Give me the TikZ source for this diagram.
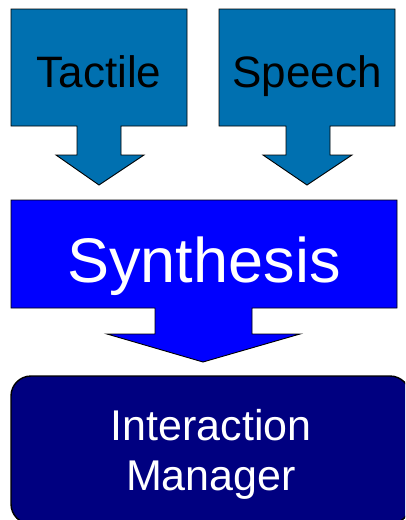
\documentclass[tikz,border=0pt]{standalone}
\usepackage{fontspec}
\setmainfont{Liberation Sans}
\definecolor{inputblue}{RGB}{0,112,176}
\definecolor{synthblue}{RGB}{0,0,255}
\definecolor{managernavy}{RGB}{0,0,128}
\tikzset{
  callout/.style={draw=black, line width=0.9pt, line join=miter},
  label/.style={anchor=base, inner sep=0pt},
}
\begin{document}
\begin{tikzpicture}[x=1pt, y=-1pt]
  \clip (0,0) rectangle (405,520);

  % input callouts with down arrows
  \path[callout, fill=inputblue]
    (11,9) -- (187,9) -- (187,126) -- (121,126) -- (121,155) -- (144,155)
    -- (99,185) -- (56,155) -- (77,155) -- (77,126) -- (11,126) -- cycle;
  \path[callout, fill=inputblue]
    (219,9) -- (395,9) -- (395,126) -- (330,126) -- (330,155) -- (352,155)
    -- (307,185) -- (263,155) -- (286,155) -- (286,126) -- (219,126) -- cycle;
  \node[label, font=\fontsize{44}{50}\selectfont] (tactile) at (99,87) {Tactile};
  \node[label, font=\fontsize{44}{50}\selectfont] (speech) at (307,87) {Speech};

  % synthesis callout
  \path[callout, fill=synthblue]
    (11,200) -- (397,200) -- (397,308) -- (252,308) -- (252,334) -- (300,334)
    -- (203,362) -- (107,334) -- (155,334) -- (155,308) -- (11,308) -- cycle;
  \node[label, text=white, font=\fontsize{63}{70}\selectfont] (synthesis) at (204,282) {Synthesis};

  % interaction manager
  \path[draw=black, line width=1.4pt, fill=managernavy, rounded corners=20pt]
    (11,376) rectangle (410,524);
  \node[label, text=white, font=\fontsize{43}{50}\selectfont] (imtop) at (211,440) {Interaction};
  \node[label, text=white, font=\fontsize{43}{50}\selectfont] (imbottom) at (211,490) {Manager};
\end{tikzpicture}
\end{document}
